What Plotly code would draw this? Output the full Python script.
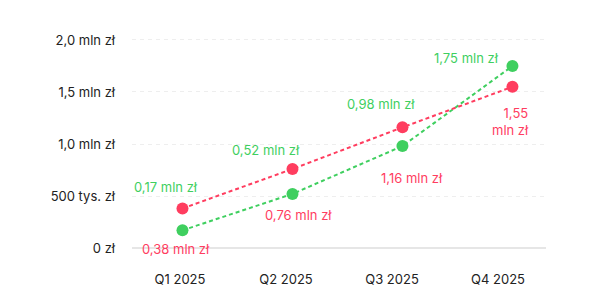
import plotly.graph_objects as go

categories = ["Q1 2025", "Q2 2025", "Q3 2025", "Q4 2025"]
green_values = [0.17, 0.52, 0.98, 1.75]
red_values = [0.38, 0.76, 1.16, 1.55]
green_labels = ["0,17 mln zł", "0,52 mln zł", "0,98 mln zł", "1,75 mln zł"]
red_labels = ["0,38 mln zł", "0,76 mln zł", "1,16 mln zł", "1,55<br>mln zł"]
y_tickvals = [0, 0.5, 1.0, 1.5, 2.0]
y_ticktext = ["0 zł", "500 tys. zł", "1,0 mln zł", "1,5 mln zł", "2,0 mln zł"]

GREEN = "#3fcf5f"
RED = "#ff3d5f"
TEXT = "#222222"
FONT = "Inter"

# label offsets (pixels) relative to each point
green_shift = [(-16, 43), (-26, 44), (-21, 42), (-46, 8)]
red_shift = [(-6, -41), (6, -46), (10, -51), (0, -35)]

fig = go.Figure()
# invisible trace that carries the category tick axis
fig.add_trace(go.Scatter(
    x=categories, y=[None] * len(categories), xaxis="x", yaxis="y",
    mode="markers", hoverinfo="skip", showlegend=False))
fig.add_trace(go.Scatter(
    x=categories, y=green_values, mode="lines+markers", xaxis="x2", yaxis="y",
    line=dict(color=GREEN, width=2, dash="4px,3px"),
    marker=dict(color=GREEN, size=12), hoverinfo="skip", showlegend=False))
fig.add_trace(go.Scatter(
    x=categories, y=red_values, mode="lines+markers", xaxis="x2", yaxis="y",
    line=dict(color=RED, width=2, dash="4px,3px"),
    marker=dict(color=RED, size=12), hoverinfo="skip", showlegend=False))

annotations = []
for c, v, t, (dx, dy) in zip(categories, green_values, green_labels, green_shift):
    annotations.append(dict(x=c, y=v, xref="x2", yref="y", text=t, showarrow=False,
                            xshift=dx, yshift=dy, font=dict(color=GREEN, size=13, family=FONT)))
for i, (c, v, t, (dx, dy)) in enumerate(zip(categories, red_values, red_labels, red_shift)):
    a = dict(x=c, y=v, xref="x2", yref="y", text=t, showarrow=False,
             xshift=dx, yshift=dy, font=dict(color=RED, size=13, family=FONT))
    if i == 3:
        a.update(xanchor="right", align="right", xshift=19)
    annotations.append(a)

fig.update_layout(
    width=597, height=302,
    margin=dict(l=132, r=51, t=35, b=54),
    paper_bgcolor="white", plot_bgcolor="white",
    font=dict(family=FONT, size=13, color=TEXT),
    xaxis=dict(type="category", categoryarray=categories, range=[-0.453, 3.453],
               showgrid=False, zeroline=False, showline=False, ticks="",
               ticklabelstandoff=22, tickfont=dict(size=13, color=TEXT)),
    xaxis2=dict(type="category", categoryarray=categories, range=[-0.459, 3.305],
                overlaying="x", anchor="y", visible=False),
    yaxis=dict(range=[0, 2.048], tickvals=y_tickvals, ticktext=y_ticktext,
               showgrid=True, gridcolor="#eeeeee", griddash="4px,4px", gridwidth=1,
               zeroline=True, zerolinecolor="#e6e6e6", zerolinewidth=2,
               showline=False, ticks="", ticklabelstandoff=16,
               tickfont=dict(size=13, color=TEXT)),
    annotations=annotations,
)

fig.write_html("out.html")
